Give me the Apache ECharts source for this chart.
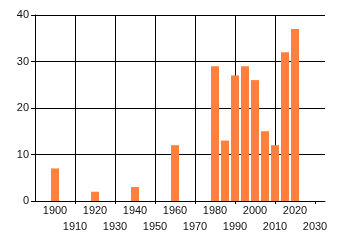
<!DOCTYPE html>
<html>
<head>
<meta charset="utf-8">
<script src="https://cdn.jsdelivr.net/npm/echarts@6/dist/echarts.min.js"></script>
<style>html,body{margin:0;padding:0;background:#fff;}#c{width:340px;height:245px;}</style>
</head>
<body>
<div id="c"></div>
<script>
const years = [1900, 1920, 1940, 1960, 1980, 1985, 1990, 1995, 2000, 2005, 2010, 2015, 2020];
const counts = [7, 2, 3, 12, 29, 13, 27, 29, 26, 15, 12, 32, 37];
const xMin = 1890, xMax = 2035, xStep = 10;
const lowerRowTicks = [1910, 1930, 1950, 1970, 1990, 2010, 2030];
const yMin = 0, yMax = 40, yStep = 10;

const chart = echarts.init(document.getElementById('c'), null, {renderer: 'canvas'});
chart.setOption({
  animation: false,
  grid: {left: 35, right: 15, top: 15, bottom: 44, containLabel: false},
  xAxis: {
    type: 'value', min: xMin, max: xMax, interval: xStep,
    axisLine: {show: true, lineStyle: {color: '#000', width: 1}},
    axisTick: {show: true, length: 3, customValues: lowerRowTicks, lineStyle: {color: '#000'}},
    splitLine: {show: true, showMinLine: true, showMaxLine: false, lineStyle: {color: '#000', width: 1}},
    axisLabel: {
      margin: 2, fontFamily: 'Liberation Sans', fontSize: 11, color: '#111', lineHeight: 16,
      showMinLabel: true, showMaxLabel: true,
      formatter: function (v) {
        if (v === xMin || v > 2030) return '';
        return (v % 20 === 0) ? String(v) : '\n' + v;
      }
    }
  },
  yAxis: {
    type: 'value', min: yMin, max: yMax, interval: yStep,
    axisLine: {show: true, lineStyle: {color: '#000', width: 1}},
    axisTick: {show: true, length: 4, lineStyle: {color: '#000'}},
    splitLine: {show: true, lineStyle: {color: '#000', width: 1}},
    axisLabel: {margin: 6, fontFamily: 'Liberation Sans', fontSize: 11, color: '#111'}
  },
  series: [{
    type: 'bar',
    barWidth: 8,
    itemStyle: {color: '#FF7F3F'},
    data: years.map((y, i) => [y, counts[i]])
  }]
});
</script>
</body>
</html>
